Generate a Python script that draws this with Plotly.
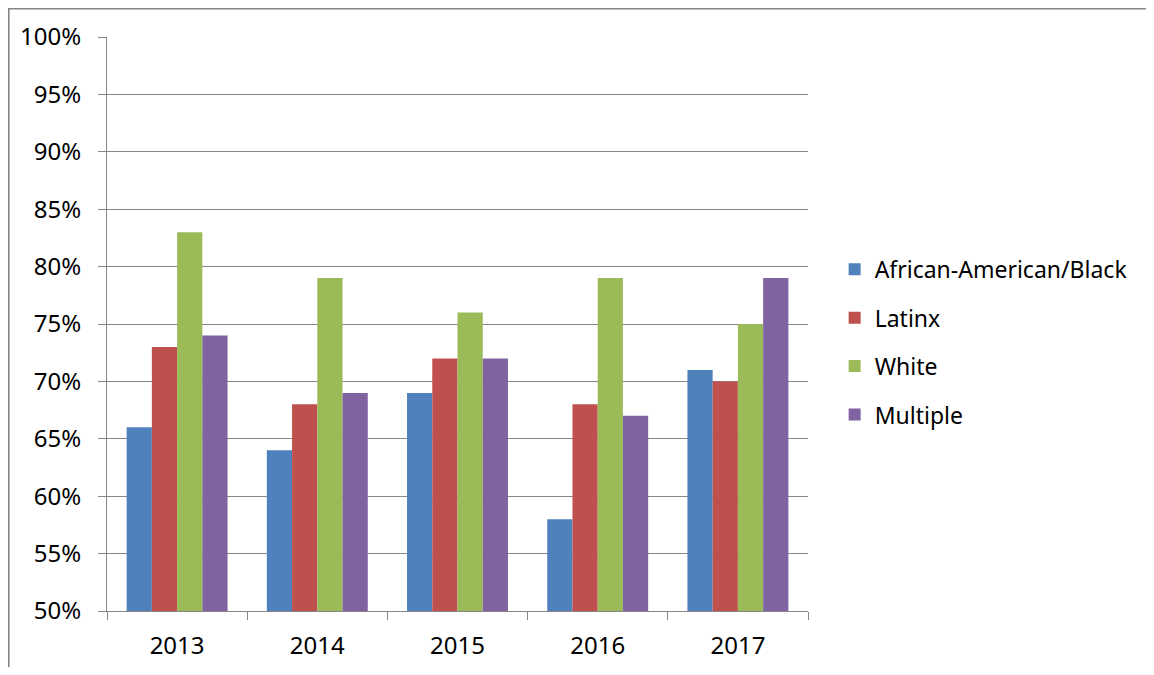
import plotly.graph_objects as go

years = ["2013", "2014", "2015", "2016", "2017"]
black = [66, 64, 69, 58, 71]
latinx = [73, 68, 72, 68, 70]
white = [83, 79, 76, 79, 75]
multiple = [74, 69, 72, 67, 79]

series = [
    ("African-American/Black", black, "#4F81BD"),
    ("Latinx", latinx, "#C0504D"),
    ("White", white, "#9BBB59"),
    ("Multiple", multiple, "#8064A2"),
]

fig = go.Figure()
for i, (name, vals, col) in enumerate(series):
    fig.add_trace(go.Bar(
        x=years, y=[v / 100 for v in vals], name=name,
        marker=dict(color=col, line=dict(width=0)),
        legendgroup=f"g{i}",
    ))

W, H = 1138, 659
L, T, PW, PH = 99, 29, 701, 574
FONT = "Noto Sans, Open Sans, sans-serif"
fig.update_layout(
    width=W, height=H,
    margin=dict(l=L, r=W - L - PW, t=T, b=H - T - PH, autoexpand=False),
    paper_bgcolor="white", plot_bgcolor="white",
    barmode="group", bargap=0.28, bargroupgap=0,
    font=dict(family=FONT, size=24, color="black"),
    legend=dict(
        x=1.038, y=0.468, xanchor="left", yanchor="middle",
        font=dict(family=FONT, size=23, color="black"),
        tracegroupgap=15.5, itemwidth=30,
    ),
    showlegend=True,
    xaxis=dict(
        showline=True, linecolor="#868686", linewidth=1,
        ticks="outside", tickson="boundaries", ticklen=8, tickcolor="#868686",
        showgrid=False, ticklabelstandoff=13, automargin=False,
    ),
    yaxis=dict(
        range=[0.5, 1.0], dtick=0.05, tickformat=".0%",
        showline=True, linecolor="#868686", linewidth=1,
        ticks="outside", ticklen=8, tickcolor="#868686",
        showgrid=True, gridcolor="#868686", gridwidth=1,
        zeroline=False, ticklabelstandoff=12, automargin=False,
    ),
    shapes=[
        dict(type="line", xref="paper", yref="paper",
             x0=(0 - L) / PW, x1=(W - L) / PW,
             y0=1 + (T - 0.8) / PH, y1=1 + (T - 0.8) / PH,
             line=dict(color="#868686", width=1.6)),
        dict(type="line", xref="paper", yref="paper",
             x0=(0.8 - L) / PW, x1=(0.8 - L) / PW,
             y0=1 + T / PH, y1=-(H - T - PH) / PH,
             line=dict(color="#868686", width=1.6)),
    ],
)

fig.write_html("out.html")
